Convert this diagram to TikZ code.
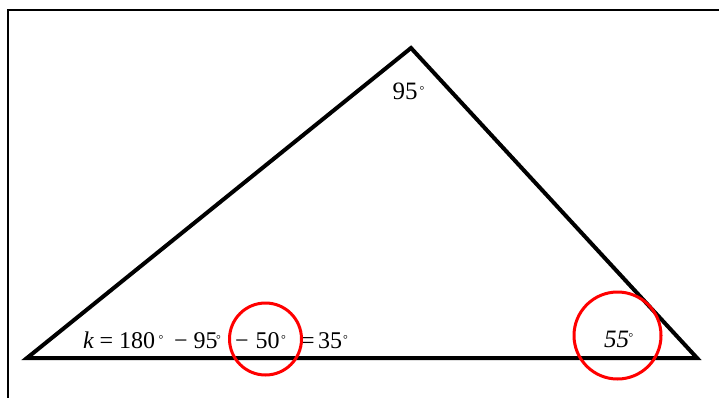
\documentclass[tikz,border=0pt]{standalone}
\usepackage{fontspec}
\setmainfont{Liberation Serif}
\newcommand{\dg}{\raisebox{0.45ex}{\fontsize{12}{12}\selectfont °}}
\begin{document}
\begin{tikzpicture}[x=1pt,y=-1pt,
  edge/.style={line width=4pt,line join=miter},
  frameline/.style={line width=2pt},
  redring/.style={draw=red,line width=3pt},
  lbl/.style={inner sep=0pt,anchor=base west,font=\fontsize{24}{28}\selectfont}]
\useasboundingbox (0,0) rectangle (719,398);
\draw[frameline] (7.5,740) -- (7.5,10) -- (740,10);
\coordinate (A) at (27,358);
\coordinate (B) at (411,48);
\coordinate (C) at (697,358);
\draw[edge] (A) -- (B) -- (C) -- cycle;
\node[lbl,font=\fontsize{25}{28}\selectfont] (top) at (392.5,100)
  {95\hspace{2pt}\dg};
\node[lbl] (eq) at (83,348)
  {\textit{k}\hspace{-0.7pt} = 180\hspace{3.5pt}\dg\hspace{4.7pt} − 95\hspace{-1.5pt}\dg\hspace{8.2pt} − \hspace{1pt}50\hspace{1.5pt}\dg\hspace{9.2pt} = \hspace{-2.5pt}35\hspace{1pt}\dg};
\node[lbl,font=\fontsize{25}{28}\selectfont\itshape] (right) at (604,347)
  {55\hspace{-1pt}\dg};
\draw[redring] (265.5,339) circle (36);
\draw[redring] (617.5,335.5) circle (43.5);
\end{tikzpicture}
\end{document}
